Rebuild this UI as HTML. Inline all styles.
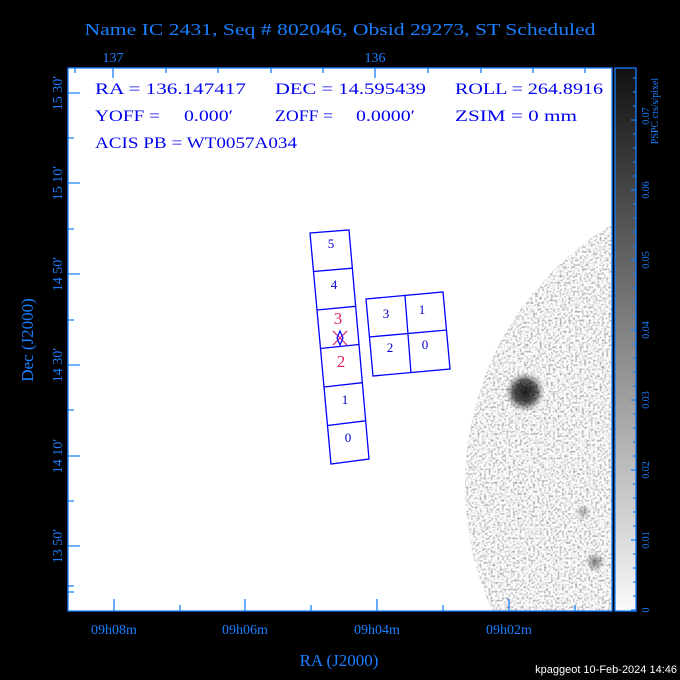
<!DOCTYPE html>
<html><head><meta charset="utf-8"><style>
html,body{margin:0;padding:0;background:#000;}
svg{display:block;}
</style></head><body>
<svg width="680" height="680" viewBox="0 0 680 680" xmlns="http://www.w3.org/2000/svg">
<defs>
<filter id="nz" x="0" y="0" width="100%" height="100%">
<feTurbulence type="fractalNoise" baseFrequency="0.45" numOctaves="1" seed="4" result="t"/>
<feColorMatrix in="t" type="matrix" values="1.8 0 0 0 -0.05  1.8 0 0 0 -0.05  1.8 0 0 0 -0.05  0 0 0 0 1"/>
</filter>
<filter id="nz2" x="0" y="0" width="100%" height="100%">
<feTurbulence type="fractalNoise" baseFrequency="0.5" numOctaves="1" seed="9" result="t"/>
<feColorMatrix in="t" type="matrix" values="0 0 0 0 0  0 0 0 0 0  0 0 0 0 0  2 0 0 0 -0.6"/>
<feComposite in2="SourceGraphic" operator="in"/>
</filter>
<clipPath id="cc"><circle cx="770" cy="485" r="305"/></clipPath>
<clipPath id="pa"><rect x="68" y="68" width="544" height="543"/></clipPath>
<radialGradient id="b1"><stop offset="0" stop-color="#000" stop-opacity="0.85"/><stop offset="0.5" stop-color="#000" stop-opacity="0.6"/><stop offset="1" stop-color="#000" stop-opacity="0"/></radialGradient>
<radialGradient id="b2"><stop offset="0" stop-color="#000" stop-opacity="0.5"/><stop offset="1" stop-color="#000" stop-opacity="0"/></radialGradient>
<linearGradient id="cb" x1="0" y1="1" x2="0" y2="0"><stop offset="0" stop-color="#fafafa"/><stop offset="1" stop-color="#111"/></linearGradient>
</defs>
<rect width="680" height="680" fill="#000"/>
<rect x="68" y="68" width="544" height="543" fill="#fff"/>
<g clip-path="url(#pa)">
<g clip-path="url(#cc)">
<rect x="460" y="170" width="160" height="445" fill="#ccc" filter="url(#nz)"/>
<circle cx="525" cy="392" r="20" fill="url(#b1)"/>
<circle cx="525" cy="392" r="14" fill="#000" opacity="0.5" filter="url(#nz2)"/>
<circle cx="595" cy="562" r="10" fill="url(#b2)"/>
<circle cx="583" cy="512" r="8" fill="url(#b2)" opacity="0.6"/>
</g>
</g>
<g fill="none" stroke="#0000ff" stroke-width="1.3">
<polygon points="310,233 349,230 369,459 331,464"/>
<line x1="313.5" y1="271.5" x2="352.3" y2="268.2"/>
<line x1="317" y1="310" x2="355.7" y2="306.3"/>
<line x1="320.5" y1="348.5" x2="359" y2="344.5"/>
<line x1="324" y1="387" x2="362.3" y2="382.7"/>
<line x1="327.5" y1="425.5" x2="365.7" y2="420.8"/>
<polygon points="366,299 443,292 450,369 373,376"/>
<line x1="405" y1="296" x2="411" y2="373"/>
<line x1="369" y1="337" x2="447" y2="330"/>
</g>
<g font-family="Liberation Serif, serif" font-size="13" fill="#0000cc" text-anchor="middle">
<text x="331" y="248">5</text>
<text x="334" y="289">4</text>
<text x="345" y="404">1</text>
<text x="348" y="442">0</text>
<text x="386" y="318">3</text>
<text x="422" y="314">1</text>
<text x="390" y="352">2</text>
<text x="425" y="349">0</text>
</g>
<g font-family="Liberation Serif, serif" font-size="17" fill="#e0206a" text-anchor="middle">
<text x="338" y="324">3</text>
<text x="341" y="367">2</text>
</g>
<g stroke="#e0206a" stroke-width="1.2"><line x1="333" y1="331" x2="347" y2="345"/><line x1="347" y1="331" x2="333" y2="345"/></g>
<polygon points="340,331 343,338 340,345 337,338" fill="none" stroke="#0000ff" stroke-width="1.2"/>
<g font-family="Liberation Serif, serif" font-size="16" fill="#0000ee">
<text x="95" y="94" textLength="151" lengthAdjust="spacingAndGlyphs">RA = 136.147417</text>
<text x="275" y="94" textLength="151" lengthAdjust="spacingAndGlyphs">DEC = 14.595439</text>
<text x="455" y="94" textLength="148" lengthAdjust="spacingAndGlyphs">ROLL = 264.8916</text>
<text x="95" y="121" textLength="65" lengthAdjust="spacingAndGlyphs">YOFF =</text>
<text x="184" y="121" textLength="49" lengthAdjust="spacingAndGlyphs">0.000′</text>
<text x="275" y="121" textLength="58" lengthAdjust="spacingAndGlyphs">ZOFF =</text>
<text x="356" y="121" textLength="59" lengthAdjust="spacingAndGlyphs">0.0000′</text>
<text x="455" y="121" textLength="122" lengthAdjust="spacingAndGlyphs">ZSIM = 0 mm</text>
<text x="95" y="148" textLength="202" lengthAdjust="spacingAndGlyphs">ACIS PB = WT0057A034</text>
</g>
<g stroke="#1a7fff" stroke-width="1.3" fill="none">
<rect x="68" y="68" width="544" height="543"/>
<path d="M75,68v5M113,68v10M166,68v5M218,68v5M271,68v5M323,68v5M375,68v10M428,68v5M481,68v5M533,68v5M585,68v5"/>
<path d="M114,611v-12M180,611v-6M245,611v-12M311,611v-6M377,611v-12M443,611v-6M509,611v-12M575,611v-6"/>
<path d="M68,93h12M68,138h6M68,183h12M68,229h6M68,274h12M68,320h6M68,365h12M68,410h6M68,456h12M68,501h6M68,546h12M68,586h6M68,592h6"/>
<rect x="615" y="68" width="21" height="543" fill="url(#cb)"/>
<path d="M636,610h-5M636,596h-3M636,582h-3M636,568h-3M636,554h-3M636,540h-5M636,526h-3M636,512h-3M636,498h-3M636,484h-3M636,470h-5M636,456h-3M636,442h-3M636,428h-3M636,414h-3M636,400h-5M636,386h-3M636,372h-3M636,358h-3M636,344h-3M636,330h-5M636,316h-3M636,302h-3M636,288h-3M636,274h-3M636,260h-5M636,246h-3M636,232h-3M636,218h-3M636,204h-3M636,190h-5M636,176h-3M636,162h-3M636,148h-3M636,134h-3M636,120h-5M636,106h-3M636,92h-3M636,78h-3"/>
</g>
<g font-family="Liberation Serif, serif" fill="#1a7fff">
<text x="340" y="35" font-size="17" text-anchor="middle" textLength="511" lengthAdjust="spacingAndGlyphs">Name IC 2431, Seq # 802046, Obsid 29273, ST Scheduled</text>
<text x="113" y="62" font-size="14" text-anchor="middle">137</text>
<text x="375" y="62" font-size="14" text-anchor="middle">136</text>
<g font-size="14" text-anchor="middle">
<text x="114" y="634">09h08m</text>
<text x="245" y="634">09h06m</text>
<text x="377" y="634">09h04m</text>
<text x="509" y="634">09h02m</text>
</g>
<text x="339" y="666" font-size="17" text-anchor="middle">RA (J2000)</text>
<text transform="translate(33,340) rotate(-90)" font-size="17" text-anchor="middle">Dec (J2000)</text>
<g font-size="14" text-anchor="middle">
<text transform="translate(62,93) rotate(-90)">15 30′</text>
<text transform="translate(62,183) rotate(-90)">15 10′</text>
<text transform="translate(62,274) rotate(-90)">14 50′</text>
<text transform="translate(62,365) rotate(-90)">14 30′</text>
<text transform="translate(62,456) rotate(-90)">14 10′</text>
<text transform="translate(62,546) rotate(-90)">13 50′</text>
</g>
<g font-size="10" text-anchor="middle">
<text transform="translate(649,610) rotate(-90)">0</text>
<text transform="translate(649,540) rotate(-90)">0.01</text>
<text transform="translate(649,470) rotate(-90)">0.02</text>
<text transform="translate(649,400) rotate(-90)">0.03</text>
<text transform="translate(649,330) rotate(-90)">0.04</text>
<text transform="translate(649,260) rotate(-90)">0.05</text>
<text transform="translate(649,190) rotate(-90)">0.06</text>
<text transform="translate(649,116) rotate(-90)">0.07</text>
<text transform="translate(658,111) rotate(-90)">PSPC cts/s/pixel</text>
</g>
</g>
<text x="677" y="673" font-family="Liberation Sans, sans-serif" font-size="11" fill="#fff" text-anchor="end">kpaggeot 10-Feb-2024 14:46</text>
</svg>
</body></html>
